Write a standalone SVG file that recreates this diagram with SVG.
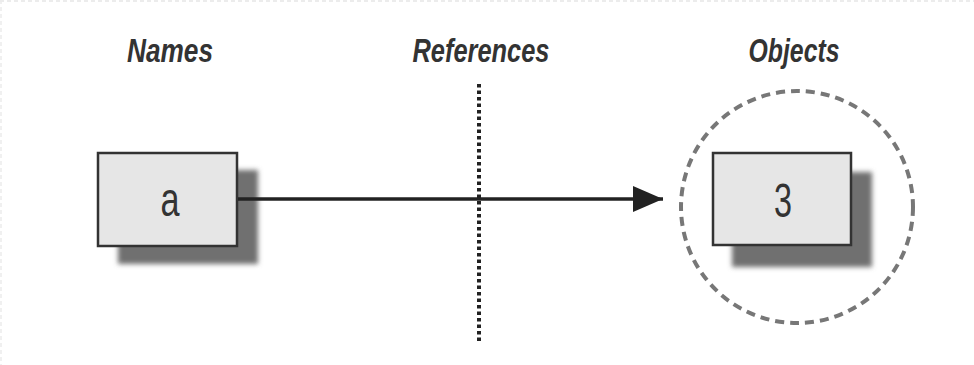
<svg xmlns="http://www.w3.org/2000/svg" width="974" height="365" viewBox="0 0 974 365">
  <style>
    .head { font-family: "Liberation Sans Narrow", "Liberation Sans", Arial, sans-serif; font-style: italic; font-weight: bold; font-size: 34px; fill: #333; }
    .val { font-family: "Liberation Sans Narrow", "Liberation Sans", Arial, sans-serif; font-size: 48px; fill: #333; }
    .box { fill: #e6e6e6; stroke: #333; stroke-width: 2.5; }
    .shadow { fill: #707070; filter: url(#soft); }
    .edge { stroke: #222; stroke-width: 3.5; fill: none; }
  </style>
  <defs>
    <filter id="soft" x="-20%" y="-20%" width="140%" height="140%">
      <feGaussianBlur stdDeviation="2.5"/>
    </filter>
    <marker id="head" markerWidth="30" markerHeight="26" refX="30" refY="13" orient="auto" markerUnits="userSpaceOnUse">
      <path d="M0,0 L30,13 L0,26 Z" fill="#222"/>
    </marker>
  </defs>
  <rect width="974" height="365" fill="#fff"/>
  <!-- faint page edge -->
  <line x1="0" y1="1" x2="974" y2="1" stroke="#e6e6e6" stroke-width="1.5" stroke-dasharray="4 3"/>
  <line x1="1" y1="0" x2="1" y2="365" stroke="#ececec" stroke-width="1.5" stroke-dasharray="4 3"/>

  <!-- column headings -->
  <text class="head" x="170" y="62" text-anchor="middle" textLength="86" lengthAdjust="spacingAndGlyphs">Names</text>
  <text class="head" x="481" y="62" text-anchor="middle" textLength="137" lengthAdjust="spacingAndGlyphs">References</text>
  <text class="head" x="794" y="62" text-anchor="middle" textLength="91" lengthAdjust="spacingAndGlyphs">Objects</text>

  <!-- reference boundary -->
  <line x1="479" y1="84" x2="479" y2="344" stroke="#222" stroke-width="4" stroke-dasharray="3.5 3"/>

  <g id="name-a">
    <rect class="shadow" x="118" y="170" width="140" height="94"/>
    <rect class="box" x="98" y="153" width="139" height="93"/>
    <text class="val" x="170" y="216" text-anchor="middle" textLength="19" lengthAdjust="spacingAndGlyphs">a</text>
  </g>

  <g id="object-3">
    <circle cx="797" cy="207" r="116" fill="none" stroke="#777" stroke-width="4" stroke-dasharray="9 6"/>
    <rect class="shadow" x="732" y="172" width="140" height="95"/>
    <rect class="box" x="713" y="153" width="138" height="92"/>
    <text class="val" x="783" y="217" text-anchor="middle" textLength="18" lengthAdjust="spacingAndGlyphs">3</text>
  </g>

  <g id="connectors">
    <line class="edge" x1="238" y1="199" x2="663" y2="199" marker-end="url(#head)"/>
  </g>
</svg>
